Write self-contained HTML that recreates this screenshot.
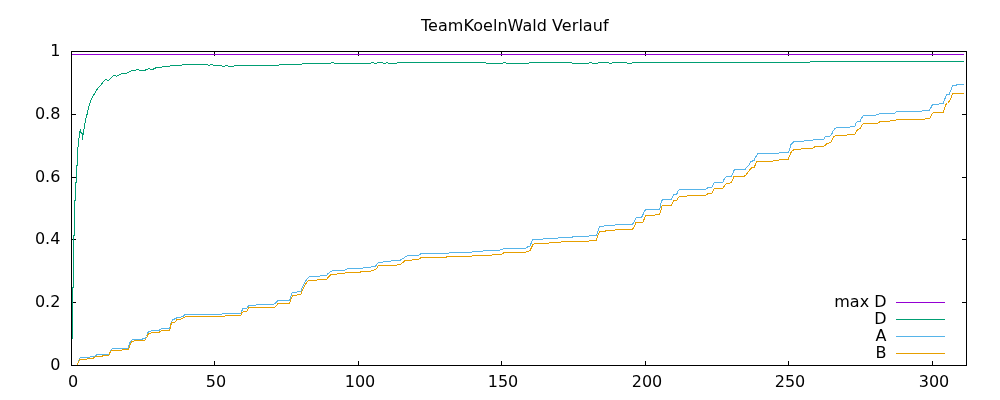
<!DOCTYPE html><html><head><meta charset="utf-8"><style>html,body{margin:0;padding:0;background:#fff}svg{display:block;will-change:transform}</style></head><body><svg width="1000" height="400" viewBox="0 0 1000 400">
<rect width="1000" height="400" fill="#fff"/>
<path d="M71.5 365.5V361M71.5 51.5V56M214.5 365.5V361M214.5 51.5V56M358.5 365.5V361M358.5 51.5V56M501.5 365.5V361M501.5 51.5V56M645.5 365.5V361M645.5 51.5V56M788.5 365.5V361M788.5 51.5V56M932.5 365.5V361M932.5 51.5V56M71.5 365.5H76M966.5 365.5H962M71.5 302.5H76M966.5 302.5H962M71.5 239.5H76M966.5 239.5H962M71.5 177.5H76M966.5 177.5H962M71.5 114.5H76M966.5 114.5H962M71.5 51.5H76M966.5 51.5H962" stroke="#000" stroke-width="1" fill="none"/>
<rect x="71.5" y="51.5" width="895" height="314" stroke="#000" stroke-width="1" fill="none"/>
<path d="M896 302.5H945" stroke="#9400d3" stroke-width="1"/>
<path d="M896 319.5H945" stroke="#009e73" stroke-width="1"/>
<path d="M896 336.5H945" stroke="#56b4e9" stroke-width="1"/>
<path d="M896 353.5H945" stroke="#e69f00" stroke-width="1"/>
<g font-family="DejaVu Sans, Liberation Sans, sans-serif" font-size="16" fill="#000"><text x="60.4" y="370.0" text-anchor="end">0</text><text x="60.4" y="307.0" text-anchor="end">0.2</text><text x="60.4" y="244.0" text-anchor="end">0.4</text><text x="60.4" y="182.0" text-anchor="end">0.6</text><text x="60.4" y="119.0" text-anchor="end">0.8</text><text x="60.4" y="56.0" text-anchor="end">1</text><text x="73.0" y="387" text-anchor="middle">0</text><text x="216.0" y="387" text-anchor="middle">50</text><text x="360.0" y="387" text-anchor="middle">100</text><text x="503.0" y="387" text-anchor="middle">150</text><text x="647.0" y="387" text-anchor="middle">200</text><text x="790.0" y="387" text-anchor="middle">250</text><text x="934.0" y="387" text-anchor="middle">300</text><text x="421" y="31" letter-spacing="0.045">TeamKoelnWald Verlauf</text><text x="886.5" y="307.0" text-anchor="end">max D</text><text x="886.5" y="324.0" text-anchor="end">D</text><text x="886.5" y="341.0" text-anchor="end">A</text><text x="886.5" y="358.0" text-anchor="end">B</text></g>
<path d="M72 54.5 L964 54.5" stroke="#9400d3" stroke-width="1" fill="none" stroke-linejoin="round" shape-rendering="crispEdges"/>
<path d="M72.5 338.5 L72.5 287.5 L73.5 287.5 L73.5 235.5 L74.5 235.5 L74.5 200.5 L75.5 200.5 L75.5 182.5 L76.5 182.5 L76.5 165.5 L77.5 165.5 L77.5 151 L78.5 143.1 L79.4 134.4 L80.3 129.4 L81.3 134 L81.9 132 L82.5 139.4 L83.2 134 L83.8 130 L84.8 125 L85.6 119.4 L86.9 115 L87.5 112.5 L88.2 109.5 L89.6 104 L90.9 100.6 L92.3 96.9 L94.4 94.1 L96.4 90.3 L98.5 87.5 L101.3 84.5 L103.3 81.7 L105.4 79.5 L106.8 79.9 L108.1 80.6 L110.2 78.6 L112.3 76.5 L114.3 75.4 L116.4 76.2 L118 75.4 L120.5 74.4 L122 73.5 L126.5 73.5 L128 72.5 L130 71.5 L131.5 70.5 L135.5 70.5 L137 69.5 L138.5 69.5 L139.5 70.5 L144.5 70.5 L146.5 69.5 L149 68.5 L151 69.5 L152.5 69.5 L154.5 68.5 L156.5 67.5 L161.5 67.5 L163 66.5 L169.5 66.5 L170.5 65.5 L181.5 65.5 L182.5 64.5 L207.5 64.5 L209 65.5 L211 64.5 L212 64.5 L213.5 65.5 L221.5 65.5 L222.5 66.5 L224.5 66.5 L225.5 65.5 L227.5 65.5 L228.5 66.5 L233.5 66.5 L234.5 65.5 L278.5 65.5 L279.5 64.5 L301.5 64.5 L302.5 63.5 L330.5 63.5 L331.5 62.5 L333.5 62.5 L334.5 63.5 L370.5 63.5 L371.5 62.5 L373.5 62.5 L374.5 63.5 L376.5 63.5 L377.5 62.5 L382.5 62.5 L383.5 63.5 L385.5 63.5 L386.5 62.5 L387.5 62.5 L388.5 63.5 L396.5 63.5 L397.5 62.5 L485.5 62.5 L486.5 63.5 L502.5 63.5 L503.5 62.5 L505.5 62.5 L506.5 63.5 L528.5 63.5 L529.5 62.5 L571.5 62.5 L572.5 63.5 L588.5 63.5 L589.5 62.5 L591.5 62.5 L592.5 63.5 L597.5 63.5 L598.5 62.5 L608.5 62.5 L609.5 63.5 L611.5 63.5 L612.5 62.5 L626.5 62.5 L627.5 63.5 L631.5 63.5 L632.5 62.5 L809.5 62.5 L810.5 61.5 L964 61.5" stroke="#009e73" stroke-width="1" fill="none" stroke-linejoin="round" shape-rendering="crispEdges"/>
<path d="M78 361.5 L80.2 357.5 L89.6 357.5 L90.4 356.5 L94 356.5 L95.6 355.5 L97.2 354.5 L108.8 354.5 L109.6 352.5 L111.2 349.5 L113.2 348.5 L128 348.5 L129.4 343.5 L131.3 340.5 L133.2 339.5 L142.2 339.5 L143.2 338.5 L145.5 338.5 L146.5 336.5 L148.4 331.5 L153.1 330.5 L158.8 330.5 L162.2 328.5 L169.3 328.5 L170.2 326.5 L171.2 322.5 L173.1 319.5 L175.9 318.5 L176.9 317.5 L180.7 317.5 L181.6 316.5 L183.1 316.5 L184 315.5 L185 314.5 L221.5 314.5 L222.5 313.5 L241.1 313.5 L242 310.5 L243 308.5 L246.3 308.5 L247.2 307.5 L249.1 305.5 L255.8 305.5 L256.6 304.5 L273.4 304.5 L274.8 303.5 L278.1 300.5 L289.5 300.5 L290.5 297.5 L291.9 293.5 L292.4 292.5 L296.6 292.5 L297.6 291.5 L300.9 291.5 L302.3 287.5 L304.2 283.5 L306.6 279.5 L309.5 276.5 L319.4 276.5 L320.4 275.5 L326.6 275.5 L328 273.5 L330.8 271.5 L332.7 270.5 L344.6 270.5 L346 269.5 L348 268.5 L362.7 268.5 L363.7 267.5 L370.8 267.5 L371.7 266.5 L375.5 266.5 L376.5 264.5 L378.4 262.5 L382.7 262.5 L383.6 261.5 L390.7 261.5 L391.7 260.5 L399.8 260.5 L401.2 259.5 L404.5 257.5 L406 256.5 L407.9 255.5 L418.8 255.5 L419.8 254.5 L421.2 253.5 L448.7 253.5 L449.7 252.5 L471.6 252.5 L472.5 251.5 L482.5 251.5 L483.5 250.5 L499.6 250.5 L500.6 249.5 L502.5 249.5 L503.4 248.5 L525.3 248.5 L526.7 247.5 L528.2 246.5 L529.6 246.5 L531 243.5 L532.9 239.5 L542.4 239.5 L543.4 238.5 L557.6 238.5 L558.6 237.5 L571.9 237.5 L572.8 236.5 L588.5 236.5 L589.5 235.5 L596.1 235.5 L597.6 232.5 L599.5 226.5 L603.7 226.5 L604.7 225.5 L614.7 225.5 L615.6 224.5 L631.8 224.5 L633.2 223.5 L634.6 220.5 L636.5 217.5 L640.8 217.5 L642.3 216.5 L643.7 212.5 L645.6 209.5 L659.4 209.5 L660.3 207.5 L661.3 201.5 L662.7 199.5 L671.2 199.5 L672.7 196.5 L673.6 194.5 L676.5 194.5 L677.9 191.5 L679.3 189.5 L705.5 189.5 L706.9 188.5 L708.3 187.5 L711.7 187.5 L713.1 184.5 L714.5 182.5 L722.6 182.5 L724 179.5 L725.4 177.5 L727.3 176.5 L731.1 176.5 L732.6 173.5 L734.5 169.5 L745.4 169.5 L746.3 167.5 L748.7 165.5 L751.1 161.5 L754 160.5 L755.4 157.5 L757.8 153.5 L778.7 153.5 L779.6 152.5 L788.2 152.5 L789.6 149.5 L791 144.5 L792.9 142.5 L794.4 141.5 L803.4 141.5 L804.3 140.5 L812.4 140.5 L813.4 139.5 L823.9 139.5 L824.8 137.5 L825.8 136.5 L829.6 136.5 L831.5 134.5 L832.9 131.5 L834.8 128.5 L837.2 127.5 L849.5 127.5 L850.5 126.5 L854.7 126.5 L856.2 122.5 L857.6 121.5 L860 121.5 L861.4 118.5 L863.3 115.5 L875.2 115.5 L876.6 114.5 L878.5 114.5 L879.5 113.5 L894.2 113.5 L895.6 112.5 L897.1 111.5 L921.8 111.5 L922.7 110.5 L929.3 110.5 L931 107.5 L932.6 104.5 L938.7 104.5 L939.8 103.5 L943.1 103.5 L944.7 99.5 L946.4 94.5 L949.1 94.5 L950.8 90.5 L952.4 85.5 L955.7 85.5 L957.4 84.5 L964 84.5" stroke="#56b4e9" stroke-width="1" fill="none" stroke-linejoin="round" shape-rendering="crispEdges"/>
<path d="M77.4 364.5 L80 359.5 L86.8 359.5 L87.4 358.5 L92.8 358.5 L94.4 357.5 L96 356.5 L102 356.5 L102.4 355.5 L108.4 355.5 L109.2 354.5 L110.4 351.5 L111.2 350.5 L121.5 350.5 L122.25 349.5 L128.5 349.5 L129.9 345.5 L131.8 341.5 L136 340.5 L136.5 340.5 L144.6 340.5 L146.5 338.5 L148.4 333.5 L149.8 333.5 L153.1 332.5 L158.8 332.5 L161.7 330.5 L169.8 330.5 L170.7 325.5 L171.7 322.5 L174.5 322.5 L175.5 321.5 L176.9 319.5 L177.4 319.5 L180.7 319.5 L181.2 318.5 L182.6 318.5 L183.5 317.5 L184.5 317.5 L185.3 316.5 L224.4 316.5 L225.3 315.5 L240.6 315.5 L242 312.5 L243.4 311.5 L246.8 311.5 L247.7 309.5 L249.1 307.5 L273.8 307.5 L275.7 306.5 L278.1 303.5 L289.5 303.5 L290.5 300.5 L291.4 298.5 L292.4 295.5 L296.6 295.5 L297.6 294.5 L300.9 294.5 L302.3 290.5 L304.2 286.5 L307.1 281.5 L309.5 280.5 L316.6 280.5 L317.5 279.5 L326.6 279.5 L328 277.5 L330.8 274.5 L336.5 274.5 L337.5 273.5 L344.6 273.5 L346 272.5 L359.9 272.5 L360.8 271.5 L370.8 271.5 L371.7 270.5 L373.6 270.5 L375.1 269.5 L376.5 268.5 L378.4 265.5 L396.4 265.5 L397.9 264.5 L399.8 264.5 L401.7 263.5 L405 260.5 L418.8 259.5 L419.8 258.5 L421.2 257.5 L445.9 257.5 L446.8 256.5 L471.6 256.5 L472.5 255.5 L491.5 255.5 L492.5 254.5 L501.5 254.5 L502.5 253.5 L504.4 252.5 L525.3 252.5 L526.3 251.5 L528.2 251.5 L530.1 250.5 L531.5 247.5 L532.9 244.5 L534.8 243.5 L548.6 243.5 L549.5 242.5 L560.5 242.5 L561.4 241.5 L588.5 241.5 L589.5 240.5 L596.1 240.5 L597.6 236.5 L598.5 233.5 L599.9 231.5 L605.2 231.5 L606.1 230.5 L614.7 230.5 L615.6 229.5 L631.8 229.5 L633.2 228.5 L634.6 225.5 L636 222.5 L642.8 222.5 L645.6 215.5 L654.6 215.5 L655.6 214.5 L659.4 214.5 L660.8 210.5 L662.2 205.5 L671.2 205.5 L672.7 202.5 L674.1 200.5 L676.5 200.5 L677.9 198.5 L679.3 196.5 L686.4 196.5 L687.4 195.5 L705.5 195.5 L706.9 194.5 L708.3 193.5 L711.7 193.5 L713.1 190.5 L714.5 188.5 L722.6 188.5 L724 186.5 L725.4 184.5 L727.3 183.5 L729.2 183.5 L731.1 182.5 L732.6 179.5 L734 176.5 L743.5 176.5 L745.4 175.5 L747.8 172.5 L749.2 170.5 L750.6 168.5 L752.5 167.5 L754 167.5 L755 165.5 L756.8 161.5 L772.5 161.5 L773.5 160.5 L778.7 160.5 L779.6 159.5 L788.2 159.5 L789.6 155.5 L791.5 151.5 L794.4 149.5 L800.5 149.5 L801.5 148.5 L812.4 148.5 L813.4 147.5 L815.8 146.5 L823.4 146.5 L824.8 145.5 L827.2 143.5 L830.5 142.5 L831.9 140.5 L833.8 136.5 L836.7 135.5 L846.2 135.5 L847.6 134.5 L854.7 134.5 L856.2 131.5 L857.6 129.5 L860.4 128.5 L861.9 125.5 L863.3 123.5 L877.6 123.5 L879 122.5 L880.3 121.5 L889.5 121.5 L890.4 120.5 L895.6 120.5 L896.6 119.5 L924.6 119.5 L925.6 118.5 L929.9 118.5 L931.5 114.5 L933.2 112.5 L943.1 112.5 L944.7 107.5 L945.8 104.5 L947.5 103.5 L949.1 101.5 L950.8 98.5 L952.4 93.5 L964 93.5" stroke="#e69f00" stroke-width="1" fill="none" stroke-linejoin="round" shape-rendering="crispEdges"/>
</svg></body></html>
